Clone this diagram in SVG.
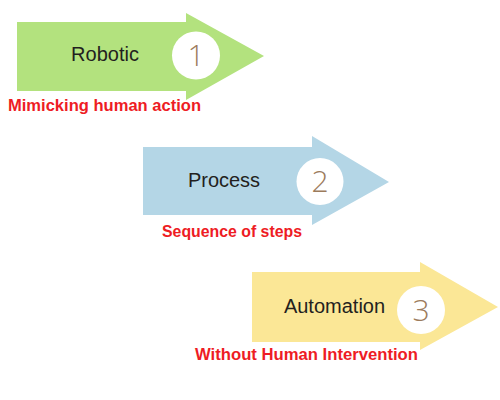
<svg xmlns="http://www.w3.org/2000/svg" width="500" height="400" viewBox="0 0 500 400">
<style>
.lbl{font-family:"Liberation Sans",Arial,sans-serif;font-size:20px;fill:#231f20;text-anchor:middle}
.num{font-family:"Open Sans","Liberation Sans",sans-serif;font-size:30px;font-weight:300;fill:#9c7b5c;text-anchor:middle}
.sub{font-family:"Liberation Sans",Arial,sans-serif;font-size:16.5px;font-weight:bold;fill:#ee1c24}
.circ{fill:#ffffff}
</style>
<rect width="500" height="400" fill="#ffffff"/>
<g id="node1">
<polygon points="17,22 186,22 186,13 264,56 186,100 186,91 17,91" fill="#b3e27e"/>
<circle class="circ" cx="196" cy="55.5" r="24"/>
<text class="lbl" x="105" y="61">Robotic</text>
<text class="num" x="196" y="66">1</text>
<text class="sub" x="8" y="111" textLength="193" lengthAdjust="spacingAndGlyphs">Mimicking human action</text>
</g>
<g id="node2">
<polygon points="143,147 312,147 312,136 389,182 312,225 312,215 143,215" fill="#b4d6e6"/>
<circle class="circ" cx="320" cy="181.5" r="23.5"/>
<text class="lbl" x="224" y="187">Process</text>
<text class="num" x="320" y="192">2</text>
<text class="sub" x="162" y="237" textLength="140" lengthAdjust="spacingAndGlyphs">Sequence of steps</text>
</g>
<g id="node3">
<polygon points="252,272 420,272 420,262 498,307 420,350 420,342 252,342" fill="#fbe796"/>
<circle class="circ" cx="421" cy="310" r="24"/>
<text class="lbl" x="334.5" y="313">Automation</text>
<text class="num" x="421" y="321">3</text>
<text class="sub" x="195" y="360" textLength="223" lengthAdjust="spacingAndGlyphs">Without Human Intervention</text>
</g>
<g id="connectors"></g>
</svg>
